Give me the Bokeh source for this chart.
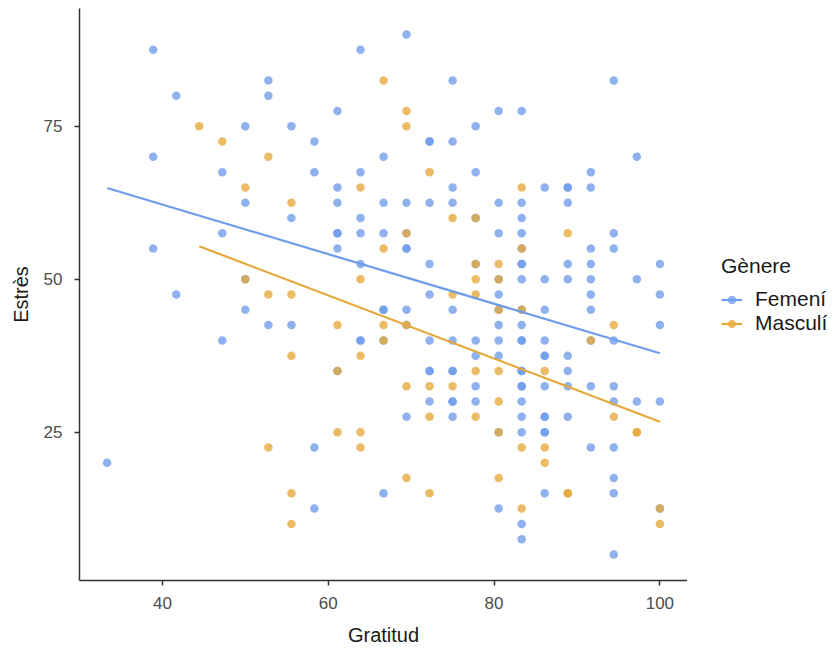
import numpy as np
from bokeh.plotting import figure
from bokeh.layouts import row
from bokeh.models import Range1d, FixedTicker, Legend, LegendItem
from bokeh.embed import file_html
from bokeh.resources import INLINE

# ---- data ----
group_labels = ["Femení", "Masculí"]
legend_title = "Gènere"
x_title = "Gratitud"
y_title = "Estrès"
x_ticks = [40, 60, 80, 100]
y_ticks = [25, 50, 75]

fem_gratitud = [
    33.33,
    38.89, 38.89, 38.89,
    41.67, 41.67,
    47.22, 47.22, 47.22,
    50.0, 50.0, 50.0, 50.0,
    52.78, 52.78, 52.78,
    55.56, 55.56, 55.56,
    58.33, 58.33, 58.33, 58.33,
    61.11, 61.11, 61.11, 61.11, 61.11, 61.11, 61.11,
    63.89, 63.89, 63.89, 63.89, 63.89, 63.89, 63.89,
    66.67, 66.67, 66.67, 66.67, 66.67, 66.67, 66.67,
    69.44, 69.44, 69.44, 69.44, 69.44, 69.44, 69.44, 69.44,
    72.22, 72.22, 72.22, 72.22, 72.22, 72.22, 72.22, 72.22, 72.22,
    75.0, 75.0, 75.0, 75.0, 75.0, 75.0, 75.0, 75.0, 75.0, 75.0, 75.0,
    77.78, 77.78, 77.78, 77.78, 77.78, 77.78, 77.78, 77.78,
    80.56, 80.56, 80.56, 80.56, 80.56, 80.56, 80.56, 80.56, 80.56, 80.56, 80.56,
    83.33, 83.33, 83.33, 83.33, 83.33, 83.33, 83.33, 83.33, 83.33, 83.33, 83.33,
    83.33, 83.33, 83.33, 83.33, 83.33, 83.33, 83.33, 83.33, 83.33, 83.33,
    86.11, 86.11, 86.11, 86.11, 86.11, 86.11, 86.11, 86.11, 86.11, 86.11, 86.11, 86.11,
    88.89, 88.89, 88.89, 88.89, 88.89, 88.89, 88.89, 88.89, 88.89,
    91.67, 91.67, 91.67, 91.67, 91.67, 91.67, 91.67, 91.67, 91.67, 91.67,
    94.44, 94.44, 94.44, 94.44, 94.44, 94.44, 94.44, 94.44, 94.44, 94.44,
    97.22, 97.22, 97.22,
    100.0, 100.0, 100.0, 100.0, 100.0,
]
fem_estres = [
    20,
    87.5, 70, 55,
    80, 47.5,
    67.5, 57.5, 40,
    75, 62.5, 50, 45,
    82.5, 80, 42.5,
    75, 60, 42.5,
    72.5, 67.5, 22.5, 12.5,
    77.5, 65, 62.5, 57.5, 57.5, 55, 35,
    87.5, 67.5, 60, 57.5, 52.5, 40, 40,
    70, 62.5, 57.5, 45, 45, 40, 15,
    90, 62.5, 57.5, 55, 55, 45, 42.5, 27.5,
    72.5, 72.5, 62.5, 52.5, 47.5, 40, 35, 35, 30,
    82.5, 72.5, 65, 62.5, 45, 40, 35, 35, 30, 30, 27.5,
    75, 67.5, 60, 52.5, 40, 37.5, 32.5, 30,
    77.5, 62.5, 57.5, 50, 47.5, 45, 42.5, 40, 37.5, 25, 12.5,
    77.5, 62.5, 60, 57.5, 55, 52.5, 52.5, 50, 45, 42.5, 40,
    40, 35, 35, 32.5, 32.5, 30, 27.5, 25, 10, 7.5,
    65, 50, 45, 40, 37.5, 37.5, 32.5, 27.5, 27.5, 25, 25, 15,
    65, 65, 62.5, 52.5, 50, 37.5, 35, 32.5, 27.5,
    67.5, 65, 55, 52.5, 50, 47.5, 45, 40, 32.5, 22.5,
    82.5, 57.5, 55, 40, 32.5, 30, 22.5, 17.5, 15, 5,
    70, 50, 30,
    52.5, 47.5, 42.5, 30, 12.5,
]

masc_gratitud = [
    44.44,
    47.22,
    50.0, 50.0,
    52.78, 52.78, 52.78,
    55.56, 55.56, 55.56, 55.56, 55.56,
    61.11, 61.11, 61.11,
    63.89, 63.89, 63.89, 63.89, 63.89,
    66.67, 66.67, 66.67, 66.67,
    69.44, 69.44, 69.44, 69.44, 69.44, 69.44,
    72.22, 72.22, 72.22, 72.22,
    75.0, 75.0, 75.0,
    77.78, 77.78, 77.78, 77.78, 77.78, 77.78,
    80.56, 80.56, 80.56, 80.56, 80.56, 80.56, 80.56,
    83.33, 83.33, 83.33, 83.33, 83.33,
    86.11, 86.11, 86.11,
    88.89, 88.89, 88.89,
    91.67,
    94.44, 94.44,
    97.22, 97.22,
    100.0, 100.0,
]
masc_estres = [
    75,
    72.5,
    65, 50,
    70, 47.5, 22.5,
    62.5, 47.5, 37.5, 15, 10,
    42.5, 35, 25,
    65, 50, 37.5, 25, 22.5,
    82.5, 55, 42.5, 40,
    77.5, 75, 57.5, 42.5, 32.5, 17.5,
    67.5, 32.5, 27.5, 15,
    60, 47.5, 32.5,
    60, 52.5, 50, 47.5, 35, 27.5,
    52.5, 50, 45, 35, 30, 25, 17.5,
    65, 55, 45, 22.5, 12.5,
    35, 22.5, 20,
    57.5, 15, 15,
    40,
    42.5, 27.5,
    25, 25,
    12.5, 10,
]

FEM_COLOR = "#6F9CEB"
MASC_COLOR = "#E6A83A"
FONT = "Liberation Sans"
PT_SIZE = 8.5
PT_ALPHA = 0.78
LINE_W = 2.2


def fit_line(xs, ys):
    slope, intercept = np.polyfit(np.asarray(xs, float), np.asarray(ys, float), 1)
    xx = np.array([min(xs), max(xs)], dtype=float)
    return xx, intercept + slope * xx


# ---- main plot ----
p = figure(
    width=687, height=650,
    output_backend="svg", toolbar_location=None,
    x_range=Range1d(30, 103.33), y_range=Range1d(0.75, 94.25),
    min_border_left=79, min_border_right=0,
    min_border_top=8, min_border_bottom=70,
)
p.outline_line_color = None
p.grid.visible = False
p.background_fill_color = "white"
p.border_fill_color = "white"

p.scatter(fem_gratitud, fem_estres, size=PT_SIZE, color=FEM_COLOR,
          fill_alpha=PT_ALPHA, line_alpha=0.0)
p.scatter(masc_gratitud, masc_estres, size=PT_SIZE, color=MASC_COLOR,
          fill_alpha=PT_ALPHA, line_alpha=0.0)

fx, fy = fit_line(fem_gratitud, fem_estres)
mx, my = fit_line(masc_gratitud, masc_estres)
p.line(fx, fy, line_color=FEM_COLOR, line_width=LINE_W)
p.line(mx, my, line_color=MASC_COLOR, line_width=LINE_W)

for ax in (p.xaxis[0], p.yaxis[0]):
    ax.axis_line_color = "#333333"
    ax.axis_line_width = 1.5
    ax.major_tick_line_color = "#333333"
    ax.major_tick_line_width = 1.5
    ax.major_tick_out = 5
    ax.major_tick_in = 0
    ax.minor_tick_line_color = None
    ax.major_label_text_font = FONT
    ax.major_label_text_font_size = "17px"
    ax.major_label_text_color = "#4D4D4D"
    ax.axis_label_text_font = FONT
    ax.axis_label_text_font_size = "20px"
    ax.axis_label_text_font_style = "normal"
    ax.axis_label_text_color = "#1A1A1A"

p.xaxis.ticker = FixedTicker(ticks=x_ticks)
p.yaxis.ticker = FixedTicker(ticks=y_ticks)
p.xaxis.axis_label = x_title
p.yaxis.axis_label = y_title
p.xaxis.major_label_standoff = 11
p.xaxis.axis_label_standoff = 12
p.yaxis.major_label_standoff = 12
p.yaxis.axis_label_standoff = 9

# ---- legend panel (separate figure to the right, so the legend is not clipped) ----
lg = figure(
    width=148, height=650,
    output_backend="svg", toolbar_location=None,
    x_range=Range1d(0, 1), y_range=Range1d(0, 1),
    x_axis_location=None, y_axis_location=None,
    min_border_left=0, min_border_right=0, min_border_top=0, min_border_bottom=0,
)
lg.outline_line_color = None
lg.grid.visible = False
lg.border_fill_color = "white"

# key glyphs only: one NaN row so the legend has a style to draw, nothing is plotted
nan_row = np.array([np.nan])
lf_pts = lg.scatter(nan_row, nan_row, size=PT_SIZE, color=FEM_COLOR, fill_alpha=PT_ALPHA, line_alpha=0.0)
lf_line = lg.line(nan_row, nan_row, line_color=FEM_COLOR, line_width=LINE_W)
lm_pts = lg.scatter(nan_row, nan_row, size=PT_SIZE, color=MASC_COLOR, fill_alpha=PT_ALPHA, line_alpha=0.0)
lm_line = lg.line(nan_row, nan_row, line_color=MASC_COLOR, line_width=LINE_W)

legend = Legend(
    items=[
        LegendItem(label=group_labels[0], renderers=[lf_line, lf_pts]),
        LegendItem(label=group_labels[1], renderers=[lm_line, lm_pts]),
    ],
    location=(34, 245),
    title=legend_title,
    title_text_font=FONT,
    title_text_font_size="21px",
    title_text_font_style="normal",
    title_text_color="#1A1A1A",
    title_standoff=9,
    label_text_font=FONT,
    label_text_font_size="21px",
    label_text_color="#1A1A1A",
    label_standoff=13,
    glyph_width=21,
    glyph_height=23,
    label_height=23,
    spacing=0,
    padding=0,
    margin=0,
    border_line_color=None,
    background_fill_alpha=0.0,
)
lg.add_layout(legend)

layout = row(p, lg, spacing=0)
open("out.html", "w").write(file_html(layout, INLINE))
